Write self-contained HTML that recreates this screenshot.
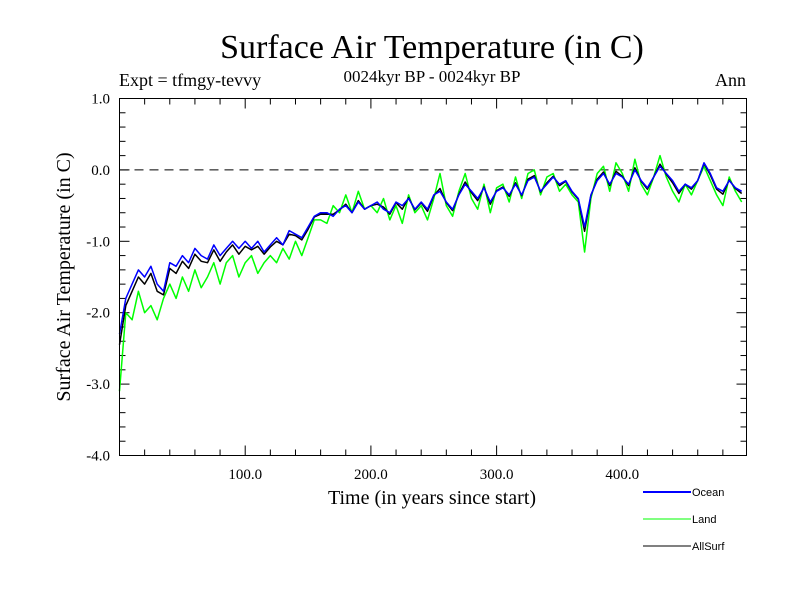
<!DOCTYPE html>
<html><head><meta charset="utf-8"><style>
body{margin:0;background:#fff;}
svg{display:block;font-family:"Liberation Serif",serif;}
</style></head><body>
<svg id="chart" width="800" height="600">
<text x="432" y="58" font-size="34" text-anchor="middle">Surface Air Temperature (in C)</text>
<text x="432" y="82" font-size="17" text-anchor="middle">0024kyr BP - 0024kyr BP</text>
<text x="119" y="86" font-size="18">Expt = tfmgy-tevvy</text>
<text x="746" y="86" font-size="18" text-anchor="end">Ann</text>
<text transform="translate(70,277) rotate(-90)" font-size="20" text-anchor="middle">Surface Air Temperature (in C)</text>
<text x="432" y="504" font-size="20" text-anchor="middle">Time (in years since start)</text>
<g id="ticks"></g>
<g id="series"></g>
<rect x="119.5" y="98.5" width="627" height="357" fill="none" stroke="#000" stroke-width="1"/>
<g font-family="Liberation Sans, sans-serif" font-size="11">
<line x1="643" y1="492" x2="691" y2="492" stroke="#0000ff" stroke-width="2"/>
<text x="692" y="496">Ocean</text>
<line x1="643" y1="519" x2="691" y2="519" stroke="#00ff00" stroke-width="1"/>
<text x="692" y="523">Land</text>
<line x1="643" y1="546" x2="691" y2="546" stroke="#000" stroke-width="1"/>
<text x="692" y="550">AllSurf</text>
</g>
</svg>
<script>
const years = [];
for (let i = 0; i < 100; i++) years.push(i * 5);
const ocean = [-2.3,-1.8,-1.6,-1.4,-1.5,-1.35,-1.6,-1.7,-1.3,-1.35,-1.2,-1.3,-1.1,-1.2,-1.25,-1.05,-1.2,-1.1,-1.0,-1.1,
-1.0,-1.1,-1.0,-1.15,-1.05,-0.95,-1.05,-0.85,-0.9,-0.95,-0.8,-0.65,-0.6,-0.6,-0.65,-0.55,-0.5,-0.6,-0.45,-0.55,
-0.5,-0.45,-0.55,-0.6,-0.45,-0.5,-0.4,-0.55,-0.45,-0.55,-0.35,-0.3,-0.45,-0.55,-0.35,-0.2,-0.3,-0.4,-0.25,-0.45,
-0.3,-0.25,-0.35,-0.2,-0.35,-0.15,-0.1,-0.3,-0.2,-0.1,-0.2,-0.15,-0.3,-0.4,-0.8,-0.35,-0.15,-0.05,-0.2,-0.05,
-0.1,-0.2,0.0,-0.15,-0.25,-0.1,0.05,-0.05,-0.15,-0.3,-0.2,-0.25,-0.15,0.1,-0.05,-0.25,-0.3,-0.15,-0.25,-0.3];
const land = [-3.1,-2.0,-2.1,-1.7,-2.0,-1.9,-2.1,-1.8,-1.6,-1.8,-1.5,-1.7,-1.4,-1.65,-1.5,-1.3,-1.6,-1.3,-1.2,-1.5,
-1.3,-1.2,-1.45,-1.3,-1.2,-1.3,-1.1,-1.25,-1.0,-1.2,-0.95,-0.7,-0.7,-0.75,-0.5,-0.6,-0.35,-0.6,-0.3,-0.55,
-0.5,-0.6,-0.4,-0.7,-0.5,-0.75,-0.35,-0.6,-0.5,-0.7,-0.4,-0.05,-0.5,-0.65,-0.3,-0.05,-0.4,-0.55,-0.2,-0.6,
-0.25,-0.2,-0.45,-0.1,-0.4,-0.05,0.0,-0.35,-0.1,-0.05,-0.3,-0.2,-0.35,-0.45,-1.15,-0.4,-0.05,0.05,-0.3,0.1,
-0.05,-0.3,0.15,-0.2,-0.35,-0.1,0.2,-0.1,-0.3,-0.45,-0.2,-0.35,-0.15,0.05,-0.15,-0.35,-0.5,-0.1,-0.3,-0.45];
const allSurf = [-2.45,-1.9,-1.7,-1.5,-1.6,-1.45,-1.7,-1.75,-1.38,-1.45,-1.28,-1.38,-1.18,-1.28,-1.3,-1.12,-1.28,-1.15,-1.05,-1.18,
-1.07,-1.12,-1.07,-1.18,-1.08,-1.0,-1.05,-0.9,-0.92,-0.98,-0.83,-0.66,-0.62,-0.62,-0.62,-0.56,-0.48,-0.6,-0.43,-0.55,
-0.5,-0.48,-0.52,-0.62,-0.46,-0.55,-0.39,-0.56,-0.46,-0.58,-0.36,-0.26,-0.46,-0.57,-0.34,-0.17,-0.32,-0.43,-0.24,-0.48,
-0.29,-0.24,-0.37,-0.18,-0.36,-0.13,-0.08,-0.31,-0.18,-0.09,-0.22,-0.16,-0.31,-0.41,-0.86,-0.36,-0.13,-0.03,-0.22,-0.02,
-0.09,-0.22,0.03,-0.16,-0.27,-0.1,0.08,-0.06,-0.18,-0.33,-0.2,-0.27,-0.15,0.09,-0.07,-0.27,-0.34,-0.14,-0.26,-0.33];
const yTicks = [1.0,0.0,-1.0,-2.0,-3.0,-4.0];
const yTickLabels = ["1.0","0.0","-1.0","-2.0","-3.0","-4.0"];
const xTicks = [100,200,300,400];
const xTickLabels = ["100.0","200.0","300.0","400.0"];

const X0=119.5, X1=746.5, Y0=98.5, Y1=455.5, XMAX=498.8;
const xs = v => X0 + v/XMAX*(X1-X0);
const ys = v => Y0 + (1.0 - v)/5.0*(Y1-Y0);
const NS="http://www.w3.org/2000/svg";
const tg=document.getElementById('ticks'), sg=document.getElementById('series');
function mk(tag,attrs,parent){const e=document.createElementNS(NS,tag);for(const k in attrs)e.setAttribute(k,attrs[k]);parent.appendChild(e);return e;}
const zl=mk('line',{x1:X0,x2:X1,y1:ys(0),y2:ys(0),stroke:'#000','stroke-dasharray':'9,6','stroke-width':1},tg);


for(let v=-4;v<=1.0001;v+=0.2){const y=ys(v);const major=Math.abs(v-Math.round(v))<0.01;const L=major?10:6;
 const a=mk('line',{x1:X0,x2:X0+L,y1:y,y2:y,stroke:'#000'},tg);
 
 
 const b=mk('line',{x1:X1-L,x2:X1,y1:y,y2:y,stroke:'#000'},tg);
 
 }
yTicks.forEach((v,i)=>{const t=mk('text',{x:110,y:ys(v)+5,'font-size':15,'text-anchor':'end'},tg);t.textContent=yTickLabels[i];
 
 });
for(let v=20;v<XMAX;v+=20){const x=xs(v);const major=v%100===0;const L=major?10:6;
 const a=mk('line',{x1:x,x2:x,y1:Y1-L,y2:Y1,stroke:'#000'},tg);
 
 
 const b=mk('line',{x1:x,x2:x,y1:Y0,y2:Y0+L,stroke:'#000'},tg);
 
 }
xTicks.forEach((v,i)=>{const t=mk('text',{x:xs(v),y:479,'font-size':15,'text-anchor':'middle'},tg);t.textContent=xTickLabels[i];
 
 });
function line(arr,color,w,name){const d=arr.map((v,i)=>(i?'L':'M')+xs(years[i]).toFixed(1)+','+ys(v).toFixed(1)).join('');
 const p=mk('path',{d:d,fill:'none',stroke:color,'stroke-width':w,'stroke-linejoin':'round'},sg);
 
 }
line(land,'#00ff00',1.5,'land-series');
line(allSurf,'#000000',1.5,'allsurf-series');
line(ocean,'#0000ff',1.5,'ocean-series');
</script>
</body></html>
